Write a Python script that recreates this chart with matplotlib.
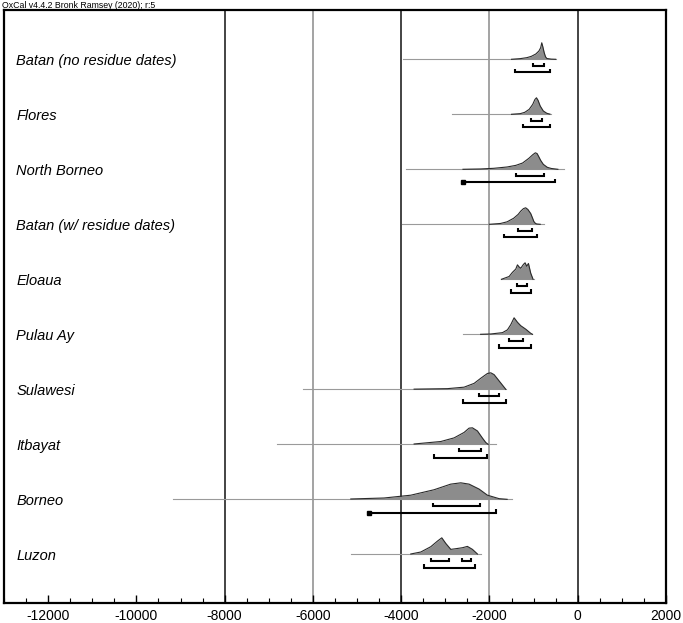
import matplotlib.pyplot as plt
from matplotlib.ticker import MultipleLocator
import numpy as np

plt.rcParams['font.family'] = ['Liberation Sans', 'DejaVu Sans']

names = ['Batan (no residue dates)', 'Flores', 'North Borneo', 'Batan (w/ residue dates)',
         'Eloaua', 'Pulau Ay', 'Sulawesi', 'Itbayat', 'Borneo', 'Luzon']

# thin line extent (start, end) in years
tails = [(-3970, -490), (-2860, -600), (-3900, -315), (-3990, -770), (-1730, -1000),
         (-2590, -1025), (-6230, -1630), (-6820, -1855), (-9180, -1480), (-5140, -2200)]

# probability profiles (year, relative height)
prof_years = [
    [-1500, -1300, -1150, -1050, -950, -880, -840, -815, -790, -760, -730, -700, -600, -500],
    [-1500, -1300, -1200, -1100, -1020, -970, -935, -900, -850, -780, -700, -630],
    [-2600, -2200, -1900, -1600, -1400, -1250, -1110, -1020, -960, -920, -880, -840, -780, -690, -600, -450],
    [-2000, -1750, -1600, -1450, -1350, -1290, -1230, -1180, -1130, -1065, -1020, -995, -960, -930, -850],
    [-1729, -1555, -1480, -1404, -1366, -1329, -1291, -1231, -1193, -1155, -1117, -1065, -1012],
    [-2200, -1970, -1706, -1593, -1518, -1442, -1366, -1291, -1178, -1065, -1025],
    [-3707, -2952, -2575, -2348, -2197, -2046, -1970, -1895, -1782, -1669, -1631],
    [-3707, -3103, -2801, -2575, -2462, -2386, -2273, -2160, -2084, -2031],
    [-5142, -4387, -3783, -3255, -2878, -2650, -2462, -2235, -2046, -1782, -1600],
    [-3783, -3556, -3330, -3179, -3080, -2990, -2876, -2763, -2612, -2500, -2386, -2273],
]
prof_dens = [
    [0.0, 0.04, 0.1, 0.18, 0.32, 0.5, 0.7, 1.0, 0.75, 0.4, 0.15, 0.05, 0.01, 0.0],
    [0.0, 0.04, 0.12, 0.3, 0.6, 0.9, 1.0, 0.85, 0.5, 0.2, 0.06, 0.01],
    [0.0, 0.02, 0.06, 0.14, 0.24, 0.38, 0.66, 0.88, 1.0, 0.95, 0.75, 0.54, 0.3, 0.12, 0.05, 0.0],
    [0.0, 0.05, 0.15, 0.37, 0.6, 0.8, 0.95, 1.0, 0.9, 0.65, 0.35, 0.17, 0.06, 0.02, 0.0],
    [0.0, 0.17, 0.42, 0.62, 0.875, 0.75, 0.67, 0.9, 1.0, 0.79, 0.96, 0.37, 0.0],
    [0.0, 0.02, 0.1, 0.27, 0.58, 1.0, 0.73, 0.52, 0.31, 0.06, 0.0],
    [0.01, 0.04, 0.13, 0.36, 0.67, 0.96, 1.0, 0.89, 0.51, 0.13, 0.0],
    [0.02, 0.17, 0.39, 0.72, 0.98, 1.0, 0.81, 0.38, 0.11, 0.0],
    [0.02, 0.08, 0.25, 0.58, 0.92, 1.0, 0.92, 0.62, 0.25, 0.04, 0.0],
    [0.02, 0.14, 0.46, 0.8, 1.0, 0.66, 0.3, 0.34, 0.4, 0.48, 0.3, 0.02],
]

# 68.2% and 95.4% ranges
r68 = [[(-1020, -770)], [(-1050, -815)], [(-1400, -770)], [(-1360, -1025)], [(-1380, -1140)],
       [(-1560, -1250)], [(-2235, -1780)], [(-2690, -2200)], [(-3270, -2215)],
       [(-3330, -2915), (-2630, -2410)]]
r95 = [[(-1430, -630)], [(-1245, -630)], [(-2590, -520)], [(-1680, -930)], [(-1520, -1050)],
       [(-1790, -1065)], [(-2610, -1630)], [(-3255, -2045)], [(-4725, -1860)],
       [(-3480, -2330)]]
dot95 = [False, False, True, False, False, False, False, False, True, False]

fig = plt.figure(figsize=(6.83, 6.23), dpi=100)
ax = fig.add_axes([4 / 683, 1 - 603 / 623, 662 / 683, 593 / 623])

for gx, gc in zip([-8000, -6000, -4000, -2000, 0], ['#111111', '#8a8a8a', '#111111', '#8a8a8a', '#111111']):
    ax.axvline(gx, color=gc, lw=1.1, zorder=1)

peak = 0.3
tick_h = 0.055


def bracket(a, b, y, dot=False):
    if dot:
        ax.plot([a, b, b], [y, y, y + tick_h], color='black', lw=1.5, zorder=4,
                solid_joinstyle='miter', solid_capstyle='butt')
        ax.plot([a], [y], marker='s', ms=3.5, color='black', zorder=4)
    else:
        ax.plot([a, a, b, b], [y + tick_h, y, y, y + tick_h], color='black', lw=1.5, zorder=4,
                solid_joinstyle='miter', solid_capstyle='butt')


for i, name in enumerate(names):
    y0 = -i
    ax.plot(tails[i], [y0, y0], color='#9a9a9a', lw=0.8, zorder=2)
    xs = np.array(prof_years[i])
    hs = y0 + np.array(prof_dens[i]) * peak
    ax.fill_between(xs, y0, hs, color='#8c8c8c', lw=0, zorder=3)
    ax.plot(xs, hs, color='#2a2a2a', lw=0.8, zorder=3)
    for a, b in r68[i]:
        bracket(a, b, y0 - 0.12)
    for a, b in r95[i]:
        bracket(a, b, y0 - 0.24, dot95[i])
    ax.text(-12720, y0 - 0.03, name, style='italic', fontsize=10.5, va='center', ha='left')

ax.set_xlim(-13000, 2000)
ax.set_ylim(-9.885, 0.896)
ax.xaxis.set_major_locator(MultipleLocator(2000))
ax.xaxis.set_minor_locator(MultipleLocator(500))
ax.tick_params(axis='x', which='major', direction='in', length=6, width=1.0, labelsize=10, pad=4)
ax.tick_params(axis='x', which='minor', direction='in', length=3.5, width=0.8)
ax.set_xticks(range(-12000, 2001, 2000))
ax.set_xticklabels([str(v) for v in range(-12000, 2001, 2000)])
ax.set_yticks([])
for s in ax.spines.values():
    s.set_linewidth(1.6)

fig.text(2 / 683, 1 - 5 / 623, 'OxCal v4.4.2 Bronk Ramsey (2020); r:5', fontsize=6.3, va='center', ha='left')

fig.savefig('out.png', dpi=100)
